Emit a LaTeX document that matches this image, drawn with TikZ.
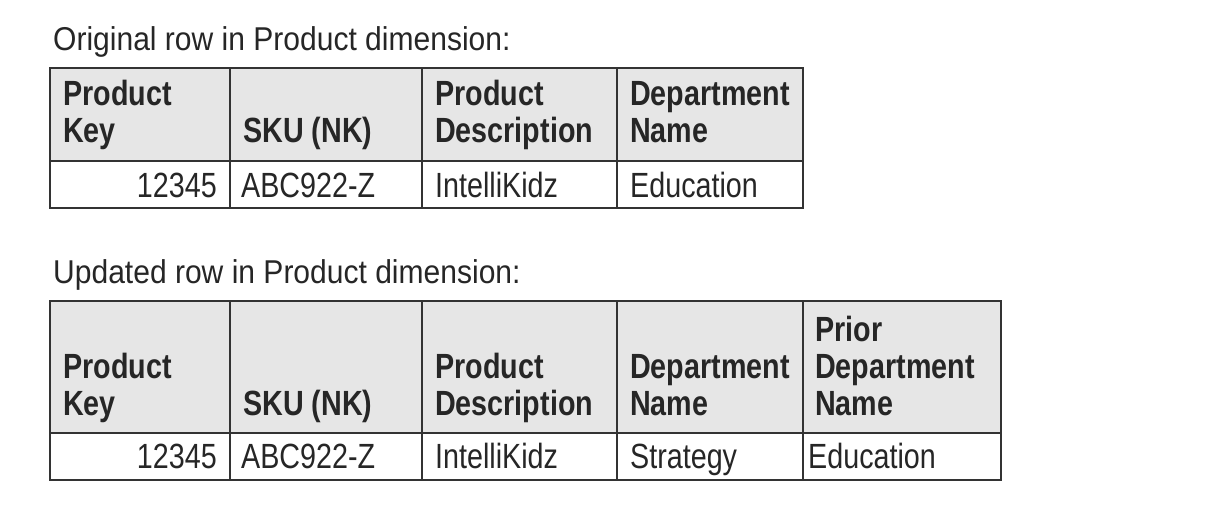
\documentclass[tikz,border=0pt]{standalone}
\usepackage{fontspec}
\setmainfont{Liberation Sans}
\newfontfamily\cellfont[FakeStretch=0.82]{Liberation Sans}
\newfontfamily\titlefont[FakeStretch=0.91]{Liberation Sans}
\definecolor{hdrgray}{HTML}{E6E6E6}
\definecolor{linegray}{HTML}{333333}
\definecolor{inkgray}{HTML}{262626}
\begin{document}
\begin{tikzpicture}[x=1pt, y=-1pt,
        gridline/.style={draw=linegray, line width=1.6pt},
        title/.style={anchor=base west, inner sep=0pt, text=inkgray, font=\titlefont\fontsize{33}{37}\selectfont},
        hdr/.style={anchor=south west, inner sep=0pt, align=left, text depth=0pt, text=inkgray, font=\cellfont\bfseries\fontsize{35}{37}\selectfont},
        val/.style={anchor=base west, inner sep=0pt, text=inkgray, font=\cellfont\fontsize{35}{37}\selectfont}
    ]
    \useasboundingbox[fill=white] (0,0) rectangle (1208,518);

    % original row
    \fill[hdrgray] (50,68) rectangle (803,161);
    \draw[gridline] (50,68) rectangle (803,208);
    \draw[gridline] (50,161) -- (803,161);
    \foreach \x in {230,422,617}
        \draw[gridline] (\x,68) -- (\x,208);

    \node[title] (t1) at (53,51) {Original row in Product dimension:};

    \node[hdr] (h11) at (63,143) {Product\\Key};
    \node[hdr] (h12) at (243,143) {SKU (NK)};
    \node[hdr] (h13) at (435,143) {Product\\Description};
    \node[hdr] (h14) at (630,143) {Department\\Name};

    \node[val, anchor=base east] (d11) at (217,198) {12345};
    \node[val] (d12) at (241,198) {ABC922-Z};
    \node[val] (d13) at (435,198) {IntelliKidz};
    \node[val] (d14) at (630,198) {Education};

    % updated row
    \fill[hdrgray] (50,301) rectangle (1001,433);
    \draw[gridline] (50,301) rectangle (1001,480);
    \draw[gridline] (50,433) -- (1001,433);
    \foreach \x in {230,422,617,803}
        \draw[gridline] (\x,301) -- (\x,480);

    \node[title] (t2) at (53,284) {Updated row in Product dimension:};

    \node[hdr] (h21) at (63,416) {Product\\Key};
    \node[hdr] (h22) at (243,416) {SKU (NK)};
    \node[hdr] (h23) at (435,416) {Product\\Description};
    \node[hdr] (h24) at (630,416) {Department\\Name};
    \node[hdr] (h25) at (815,416) {Prior\\Department\\Name};

    \node[val, anchor=base east] (d21) at (217,469) {12345};
    \node[val] (d22) at (241,469) {ABC922-Z};
    \node[val] (d23) at (435,469) {IntelliKidz};
    \node[val] (d24) at (630,469) {Strategy};
    \node[val] (d25) at (808,469) {Education};
\end{tikzpicture}
\end{document}
